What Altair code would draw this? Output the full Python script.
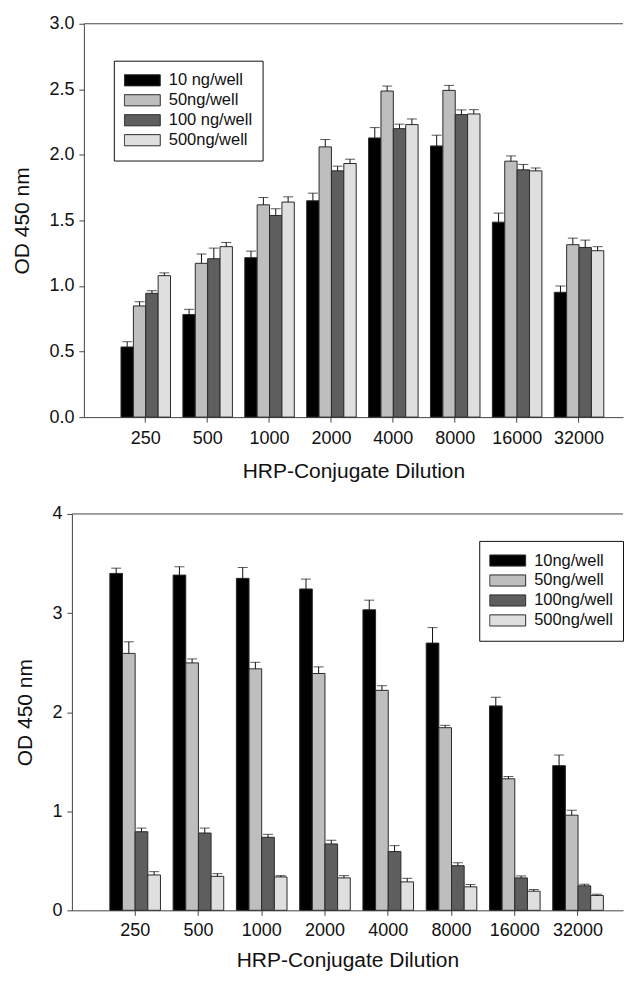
import altair as alt
import pandas as pd

dilutions = ["250", "500", "1000", "2000", "4000", "8000", "16000", "32000"]

top_labels = ["10 ng/well", "50ng/well", "100 ng/well", "500ng/well"]
top_10 = [0.535, 0.782, 1.216, 1.650, 2.129, 2.068, 1.487, 0.952]
top_10_err = [0.040, 0.040, 0.050, 0.058, 0.079, 0.082, 0.069, 0.048]
top_50 = [0.848, 1.173, 1.619, 2.061, 2.487, 2.492, 1.952, 1.315]
top_50_err = [0.032, 0.071, 0.056, 0.056, 0.038, 0.038, 0.040, 0.050]
top_100 = [0.944, 1.208, 1.538, 1.878, 2.200, 2.307, 1.886, 1.294]
top_100_err = [0.020, 0.081, 0.051, 0.036, 0.034, 0.036, 0.041, 0.056]
top_500 = [1.079, 1.300, 1.640, 1.934, 2.231, 2.312, 1.878, 1.269]
top_500_err = [0.021, 0.032, 0.040, 0.033, 0.043, 0.033, 0.022, 0.031]

bot_labels = ["10ng/well", "50ng/well", "100ng/well", "500ng/well"]
bot_10 = [3.400, 3.383, 3.350, 3.243, 3.033, 2.697, 2.063, 1.460]
bot_10_err = [0.053, 0.084, 0.110, 0.100, 0.097, 0.156, 0.087, 0.107]
bot_50 = [2.593, 2.497, 2.437, 2.390, 2.220, 1.843, 1.327, 0.960]
bot_50_err = [0.117, 0.040, 0.066, 0.067, 0.047, 0.024, 0.023, 0.050]
bot_100 = [0.793, 0.780, 0.737, 0.670, 0.593, 0.450, 0.327, 0.247]
bot_100_err = [0.037, 0.050, 0.030, 0.037, 0.060, 0.030, 0.020, 0.016]
bot_500 = [0.357, 0.343, 0.337, 0.327, 0.287, 0.237, 0.193, 0.150]
bot_500_err = [0.033, 0.027, 0.013, 0.023, 0.036, 0.023, 0.017, 0.013]

colors = ["#000000", "#bebebe", "#5e5e5e", "#dfdfdf"]
FONT = "Liberation Sans"


def long_df(labels, series, errs):
    rows = []
    for lab, vals, es in zip(labels, series, errs):
        for d, v, e in zip(dilutions, vals, es):
            rows.append({"dilution": d, "series": lab, "value": v, "upper": v + e})
    return pd.DataFrame(rows)


def panel(df, labels, ymax, yvals, yfmt, width, height, shift, lx, ly,
          label_pad, title_pad):
    # shift: pixels between the view's left edge and the y axis
    xscale = alt.Scale(paddingInner=0.2, paddingOuter=0.455, align=0.659,
                       range=[shift, width])
    xoff = alt.XOffset("series:N", sort=labels, scale=alt.Scale(paddingInner=0))
    yscale = alt.Scale(domain=[0, ymax], nice=False, zero=True)
    x_axis = alt.Axis(title="HRP-Conjugate Dilution", labelAngle=0,
                      labelPadding=label_pad, titlePadding=title_pad)
    y_axis = alt.Axis(title="OD 450 nm", values=yvals, format=yfmt, grid=False,
                      offset=-shift)
    X = alt.X("dilution:N", sort=dilutions, scale=xscale, axis=x_axis)
    base = alt.Chart(df)
    bars = base.mark_bar(stroke="#2a2a2a", strokeWidth=1).encode(
        x=X,
        xOffset=xoff,
        y=alt.Y("value:Q", scale=yscale, axis=y_axis),
        color=alt.Color(
            "series:N",
            sort=labels,
            scale=alt.Scale(domain=labels, range=colors),
            legend=alt.Legend(
                title=None,
                orient="none",
                legendX=lx,
                legendY=ly,
                symbolType="M-1,-0.31H1V0.31H-1Z",
                symbolSize=1296,
                symbolStrokeColor="#2a2a2a",
                symbolStrokeWidth=1,
                symbolOpacity=1,
                clipHeight=19.3,
                rowPadding=0,
                padding=10,
                strokeColor="#111111",
                labelFont=FONT,
                labelFontSize=16.5,
                labelColor="#111111",
                labelOffset=8,
            ),
        ),
    )
    err = base.mark_rule(color="#111111", strokeWidth=1).encode(
        x=X,
        xOffset=xoff,
        y=alt.Y("value:Q", scale=yscale, axis=y_axis),
        y2="upper:Q",
    )
    caps = base.mark_tick(color="#111111", thickness=1, size=10).encode(
        x=X,
        xOffset=xoff,
        y=alt.Y("upper:Q", scale=yscale, axis=y_axis),
    )
    # frame line along the top of the plot, from the y axis to the right edge
    frame = alt.Chart(pd.DataFrame({"v": [ymax]})).mark_rule(
        color="#444444", strokeWidth=1
    ).encode(
        y=alt.Y("v:Q", scale=yscale, axis=y_axis),
        x=alt.value(shift),
        x2=alt.value(width),
    )
    return alt.layer(bars, err, caps, frame).properties(width=width, height=height)


top_df = long_df(top_labels, [top_10, top_50, top_100, top_500],
                 [top_10_err, top_50_err, top_100_err, top_500_err])
bot_df = long_df(bot_labels, [bot_10, bot_50, bot_100, bot_500],
                 [bot_10_err, bot_50_err, bot_100_err, bot_500_err])

top_chart = panel(top_df, top_labels, 3.0, [0, 0.5, 1.0, 1.5, 2.0, 2.5, 3.0], ".1f",
                  552, 394, 12, 42, 37, 7, 13)
bot_chart = panel(bot_df, bot_labels, 4, [0, 1, 2, 3, 4], "d",
                  552, 397, 0, 408, 27, 6, 10)

chart = alt.vconcat(top_chart, bot_chart, spacing=24).resolve_scale(
    color="independent", x="independent", y="independent", xOffset="independent"
).properties(
    padding={"left": 3, "top": 6, "right": 0, "bottom": 0},
).configure_view(stroke=None).configure_axis(
    labelFont=FONT,
    titleFont=FONT,
    labelFontSize=18,
    titleFontSize=21,
    titleFontWeight="normal",
    labelColor="#111111",
    titleColor="#111111",
    domainColor="#444444",
    tickColor="#444444",
    tickSize=5,
).configure_axisY(titlePadding=16, labelPadding=5)

chart.save("out.html", embed_options={"renderer": "svg", "actions": False})
